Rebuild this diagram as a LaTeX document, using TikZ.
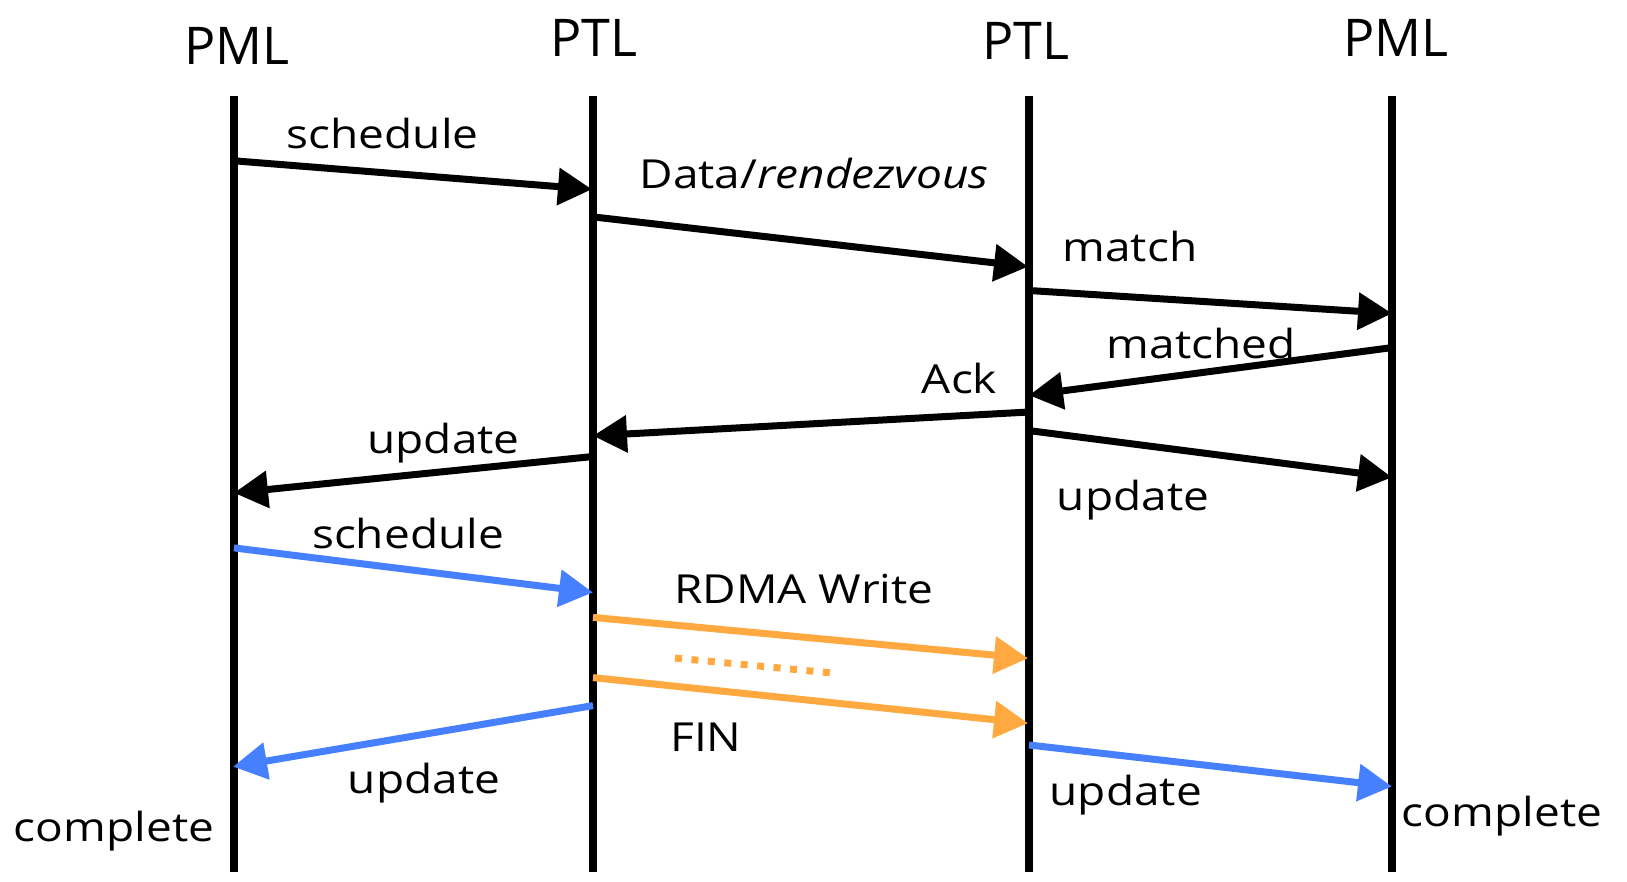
\documentclass[tikz,border=0pt]{standalone}
\usepackage{fontspec}
\setmainfont[FakeStretch=1.15]{Open Sans}
\newfontfamily\hdrfont{Open Sans}
\usetikzlibrary{arrows.meta}
\definecolor{cblue}{HTML}{4680FF}
\definecolor{corange}{HTML}{FFA940}
\begin{document}
\begin{tikzpicture}[x=1pt,y=-1pt,
  life/.style={line width=8pt},
  msg/.style={line width=7pt,-{Triangle[length=34pt,width=36pt]}},
  bmsg/.style={msg,cblue},
  omsg/.style={msg,corange},
  lbl/.style={anchor=base,inner sep=0pt,font=\fontsize{40}{46}\selectfont},
  hdr/.style={anchor=base,inner sep=0pt,font=\hdrfont\fontsize{52}{60}\selectfont}]
\useasboundingbox (0,0) rectangle (1627,882);
% headers
\node[hdr] (h1) at (236.7,65) {PML};
\node[hdr] (h2) at (594,56.7) {PTL};
\node[hdr] (h3) at (1025.6,60) {PTL};
\node[hdr] (h4) at (1396,56.7) {PML};
% lifelines
\coordinate (A0) at (234,96.5);  \coordinate (A1) at (234,871.6);
\coordinate (B0) at (593,96.5);  \coordinate (B1) at (593,871.6);
\coordinate (C0) at (1029,96.5); \coordinate (C1) at (1029,871.6);
\coordinate (D0) at (1392,96.5); \coordinate (D1) at (1392,871.6);
\draw[life] (A0) -- (A1);
\draw[life] (B0) -- (B1);
\draw[life] (C0) -- (C1);
\draw[life] (D0) -- (D1);
% endpoints
\coordinate (m1s) at (234,160.8);  \coordinate (m1e) at (592,189.3);
\coordinate (m2s) at (593,216.9);  \coordinate (m2e) at (1028,266.7);
\coordinate (m3s) at (1029,290.5); \coordinate (m3e) at (1392,313.4);
\coordinate (m4s) at (1392,347.6); \coordinate (m4e) at (1029,395.3);
\coordinate (m5s) at (1029,412);   \coordinate (m5e) at (593,435.8);
\coordinate (m6s) at (593,456.5);  \coordinate (m6e) at (234,492.9);
\coordinate (m7s) at (1029,430.6); \coordinate (m7e) at (1392,477.3);
\coordinate (m8s) at (234,547.9);  \coordinate (m8e) at (593,592.5);
\coordinate (m9s) at (593,617.4);  \coordinate (m9e) at (1028,658.3);
\coordinate (d1) at (675,658);     \coordinate (d2) at (832,673);
\coordinate (m11s) at (593,677.6); \coordinate (m11e) at (1028,723.2);
\coordinate (m12s) at (593,705.6); \coordinate (m12e) at (233,766.7);
\coordinate (m13s) at (1029,745);  \coordinate (m13e) at (1392,786.5);
% messages
\draw[msg] (m1s) -- (m1e);
\draw[msg] (m2s) -- (m2e);
\draw[msg] (m3s) -- (m3e);
\draw[msg] (m4s) -- (m4e);
\draw[msg] (m5s) -- (m5e);
\draw[msg] (m6s) -- (m6e);
\draw[msg] (m7s) -- (m7e);
\draw[bmsg] (m8s) -- (m8e);
\draw[omsg] (m9s) -- (m9e);
\draw[corange,line width=7pt,dash pattern=on 7pt off 9.5pt] (d1) -- (d2);
\draw[omsg] (m11s) -- (m11e);
\draw[bmsg] (m12s) -- (m12e);
\draw[bmsg] (m13s) -- (m13e);
% labels
\node[lbl] (t1) at (382.6,148.3) {schedule};
\node[lbl] (t2) at (814,188.3) {Data/\textit{rendezvous}};
\node[lbl] (t3) at (1130,261.7) {match};
\node[lbl] (t4) at (1201,358.3) {matched};
\node[lbl] (t5) at (959.5,393.3) {Ack};
\node[lbl] (t6) at (443.6,453) {update};
\node[lbl] (t7) at (1133,510) {update};
\node[lbl] (t8) at (408,548.3) {schedule};
\node[lbl] (t9) at (804,603.3) {RDMA Write};
\node[lbl] (t10) at (706,751.7) {FIN};
\node[lbl] (t11) at (424,793.3) {update};
\node[lbl] (t12) at (1125.7,805) {update};
\node[lbl] (t13) at (114,841.7) {complete};
\node[lbl] (t14) at (1502,826.7) {complete};
\end{tikzpicture}
\end{document}
